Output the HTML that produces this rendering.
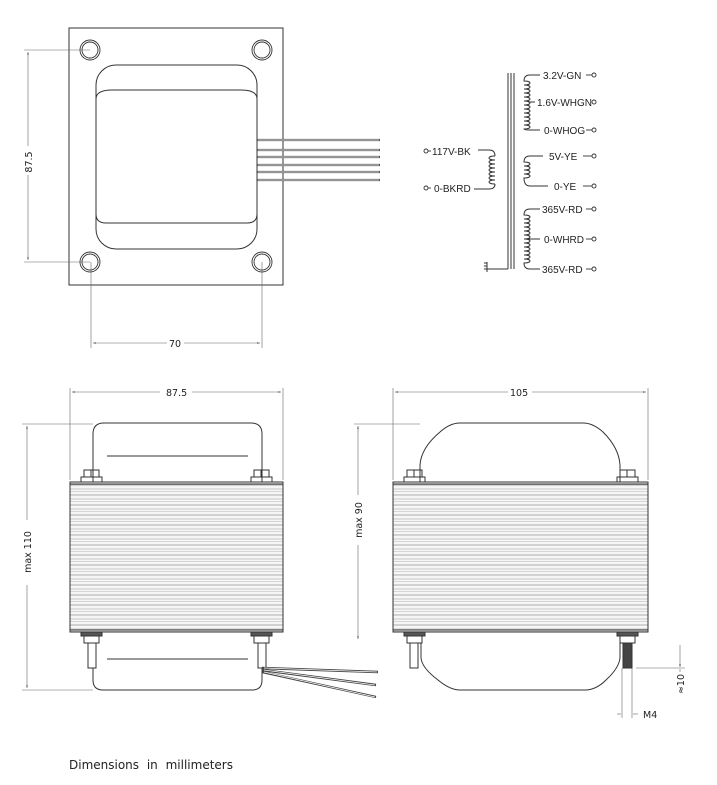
<!DOCTYPE html>
<html><head><meta charset="utf-8"><style>
html,body{margin:0;padding:0;background:#fff;}
svg{display:block;font-family:"DejaVu Sans","Liberation Sans",sans-serif;}
</style></head><body>
<svg width="717" height="785" viewBox="0 0 717 785" xmlns="http://www.w3.org/2000/svg">
<defs>
<pattern id="st" x="0" y="484" width="10" height="10" patternUnits="userSpaceOnUse">
<rect width="10" height="10" fill="#f6f6f6"/>
<line x1="0" y1="1" x2="10" y2="1" stroke="#999" stroke-width="0.8"/>
<line x1="0" y1="5" x2="10" y2="5" stroke="#bbb" stroke-width="0.8"/>
<line x1="0" y1="7.5" x2="10" y2="7.5" stroke="#ccc" stroke-width="0.8"/>
</pattern>
<marker id="ar" viewBox="0 0 10 10" refX="10" refY="5" markerWidth="5" markerHeight="5" orient="auto-start-reverse"><path d="M0,3 L10,5 L0,7 z" fill="#333"/></marker>
</defs>
<g fill="none" stroke="#333" stroke-width="1">
<!-- TOP VIEW -->
<rect x="69" y="28" width="214" height="257"/>
<g stroke-width="0.9">
<circle cx="90" cy="50" r="10"/><circle cx="90" cy="50" r="8"/>
<circle cx="262" cy="50" r="10"/><circle cx="262" cy="50" r="8"/>
<circle cx="90" cy="262" r="10"/><circle cx="90" cy="262" r="8"/>
<circle cx="262" cy="262" r="10"/><circle cx="262" cy="262" r="8"/>
</g>
<rect x="96" y="65" width="161" height="184" rx="20"/>
<path d="M96,99 Q96,90 112,90 L241,90 Q257,90 257,99"/>
<path d="M96,99 L96,214 Q96,223 106,223 L247,223 Q257,223 257,214 L257,99"/>
<g stroke="#555" stroke-width="2.2">
<line x1="257" y1="140" x2="380" y2="140"/><line x1="257" y1="150" x2="380" y2="150"/>
<line x1="257" y1="157" x2="380" y2="157"/><line x1="257" y1="165" x2="380" y2="165"/>
<line x1="257" y1="172" x2="380" y2="172"/><line x1="257" y1="180" x2="380" y2="180"/>
</g>
<g stroke="#fff" stroke-width="0.7">
<line x1="258" y1="140" x2="379" y2="140"/><line x1="258" y1="150" x2="379" y2="150"/>
<line x1="258" y1="157" x2="379" y2="157"/><line x1="258" y1="165" x2="379" y2="165"/>
<line x1="258" y1="172" x2="379" y2="172"/><line x1="258" y1="180" x2="379" y2="180"/>
</g>
<g stroke="#666" stroke-width="0.6">
<line x1="24" y1="50" x2="90" y2="50"/><line x1="24" y1="262" x2="90" y2="262"/>
<line x1="28" y1="52" x2="28" y2="146" marker-start="url(#ar)"/><line x1="28" y1="175" x2="28" y2="260" marker-end="url(#ar)"/>
<line x1="91" y1="262" x2="91" y2="348"/><line x1="262" y1="262" x2="262" y2="348"/>
<line x1="93" y1="343" x2="167" y2="343" marker-start="url(#ar)"/><line x1="184" y1="343" x2="260" y2="343" marker-end="url(#ar)"/>
</g>
<!-- SCHEMATIC -->
<g stroke-width="1">
<line x1="508" y1="73" x2="508" y2="269"/><line x1="511" y1="73" x2="511" y2="269"/><line x1="514" y1="73" x2="514" y2="269"/>
<line x1="487" y1="269" x2="508" y2="269"/>
<line x1="484" y1="263" x2="487" y2="263"/><line x1="484" y1="266" x2="487" y2="266"/><line x1="484" y1="269" x2="487" y2="269"/><line x1="487" y1="262" x2="487" y2="272"/>
<path d="M478,150 L489,150 Q495,150 495,156 M495,184 Q495,189 489,189 L474,189"/>
<path d="M495,156 c-8,0 -8,4 0,4 c-8,0 -8,4 0,4 c-8,0 -8,4 0,4 c-8,0 -8,4 0,4 c-8,0 -8,4 0,4 c-8,0 -8,4 0,4 c-8,0 -8,4 0,4"/>
<path d="M540,75 L530,75 Q524,75 524,81 c8,0 8,4 0,4 c8,0 8,4 0,4 c8,0 8,4 0,4 c8,0 8,4 0,4 c8,0 8,4 0,4 c8,0 8,4 0,4 c8,0 8,4 0,4 c8,0 8,4 0,4 c8,0 8,4 0,4 c8,0 8,4 0,4 c8,0 8,4 0,4 c8,0 8,4 0,4 Q524,130 530,130 L540,130"/>
<line x1="528" y1="102" x2="535" y2="102"/>
<path d="M543,156 L530,156 Q524,156 524,162 c8,0 8,4 0,4 c8,0 8,4 0,4 c8,0 8,4 0,4 c8,0 8,4 0,4 Q524,186 530,186 L548,186"/>
<path d="M540,209 L530,209 Q524,209 524,215 c8,0 8,4 0,4 c8,0 8,4 0,4 c8,0 8,4 0,4 c8,0 8,4 0,4 c8,0 8,4 0,4 c8,0 8,4 0,4 c8,0 8,4 0,4 c8,0 8,4 0,4 c8,0 8,4 0,4 c8,0 8,4 0,4 c8,0 8,4 0,4 c8,0 8,4 0,4 Q524,269 530,269 L540,269"/>
<line x1="528" y1="239" x2="540" y2="239"/>
<g stroke-width="0.9">
<line x1="586" y1="75" x2="592" y2="75"/><circle cx="594" cy="75" r="2"/>
<circle cx="594" cy="102" r="2"/>
<line x1="586" y1="130" x2="592" y2="130"/><circle cx="594" cy="130" r="2"/>
<line x1="583" y1="156" x2="592" y2="156"/><circle cx="594" cy="156" r="2"/>
<line x1="583" y1="186" x2="592" y2="186"/><circle cx="594" cy="186" r="2"/>
<line x1="586" y1="209" x2="592" y2="209"/><circle cx="594" cy="209" r="2"/>
<line x1="586" y1="239" x2="592" y2="239"/><circle cx="594" cy="239" r="2"/>
<line x1="586" y1="269" x2="592" y2="269"/><circle cx="594" cy="269" r="2"/>
<circle cx="426" cy="151" r="2"/><line x1="428" y1="151" x2="431" y2="151"/>
<circle cx="426" cy="188" r="2"/><line x1="428" y1="188" x2="431" y2="188"/>
</g>
</g>
<!-- FRONT VIEW -->
<path d="M93,482 L93,434 Q93,423 104,423 L251,423 Q262,423 262,434 L262,482" />
<line x1="107" y1="456" x2="248" y2="456"/>
<rect x="70" y="482" width="213" height="150" fill="url(#st)"/>
<line x1="70" y1="484" x2="283" y2="484"/><line x1="70" y1="630" x2="283" y2="630"/>
<rect x="81" y="477" width="21" height="5"/><rect x="84" y="470" width="15" height="7"/><line x1="91" y1="470" x2="91" y2="477"/>
<rect x="251" y="477" width="21" height="5"/><rect x="254" y="470" width="15" height="7"/><line x1="261" y1="470" x2="261" y2="477"/>
<rect x="81" y="632" width="21" height="4" fill="#555"/><rect x="84" y="636" width="15" height="7"/>
<rect x="251" y="632" width="21" height="4" fill="#555"/><rect x="254" y="636" width="15" height="7"/>
<rect x="88" y="643" width="8" height="25"/><rect x="258" y="643" width="8" height="25"/>
<path d="M93,668 L93,680 Q93,690 103,690 L252,690 Q262,690 262,680 L262,668"/>
<line x1="107" y1="659" x2="248" y2="659"/>
<g stroke="#444" stroke-width="2.4"><path d="M262,668 L378,672 M262,670 L376,685 M262,672 L376,697"/></g>
<g stroke="#fff" stroke-width="0.8"><path d="M264,668 L377,672 M264,670 L375,685 M264,672 L375,697"/></g>
<g stroke="#666" stroke-width="0.6">
<line x1="70" y1="388" x2="70" y2="480"/><line x1="283" y1="388" x2="283" y2="480"/>
<line x1="72" y1="392" x2="160" y2="392" marker-start="url(#ar)"/><line x1="192" y1="392" x2="281" y2="392" marker-end="url(#ar)"/>
<line x1="22" y1="424" x2="93" y2="424"/><line x1="22" y1="690" x2="93" y2="690"/>
<line x1="27" y1="426" x2="27" y2="520" marker-start="url(#ar)"/><line x1="27" y1="585" x2="27" y2="688" marker-end="url(#ar)"/>
<line x1="354" y1="424" x2="420" y2="424"/>
<line x1="358" y1="426" x2="358" y2="495" marker-start="url(#ar)"/><line x1="358" y1="545" x2="358" y2="639" marker-end="url(#ar)"/>
</g>
<!-- SIDE VIEW -->
<path d="M420,482 L420,465 Q421,448 440,432 Q450,423 460,423 L583,423 Q593,423 603,432 Q619,448 620,465 L620,482"/>
<rect x="393" y="482" width="255" height="150" fill="url(#st)"/>
<line x1="393" y1="484" x2="648" y2="484"/><line x1="393" y1="630" x2="648" y2="630"/>
<rect x="404" y="477" width="21" height="5"/><rect x="407" y="470" width="15" height="7"/><line x1="414" y1="470" x2="414" y2="477"/>
<rect x="617" y="477" width="21" height="5"/><rect x="620" y="470" width="15" height="7"/><line x1="627" y1="470" x2="627" y2="477"/>
<rect x="404" y="632" width="21" height="4" fill="#555"/><rect x="407" y="636" width="15" height="7"/>
<rect x="617" y="632" width="21" height="4" fill="#555"/><rect x="620" y="636" width="15" height="7"/>
<rect x="410" y="643" width="8" height="25"/><rect x="623" y="643" width="9" height="25" fill="#444"/>
<path d="M421,643 L421,658 Q422,668 438,680 Q450,690 460,690 L585,690 Q596,690 606,680 Q619,668 620,658 L620,643"/>
<g stroke="#666" stroke-width="0.6">
<line x1="393" y1="388" x2="393" y2="480"/><line x1="648" y1="388" x2="648" y2="480"/>
<line x1="395" y1="392" x2="508" y2="392" marker-start="url(#ar)"/><line x1="532" y1="392" x2="646" y2="392" marker-end="url(#ar)"/>
<line x1="636" y1="668" x2="685" y2="668"/>
<line x1="680" y1="645" x2="680" y2="667" marker-end="url(#ar)"/><line x1="680" y1="669" x2="680" y2="672"/>
<line x1="622" y1="668" x2="622" y2="718"/><line x1="632" y1="668" x2="632" y2="718"/>
<line x1="617" y1="714" x2="621" y2="714"/><line x1="633" y1="714" x2="638" y2="714"/>
</g>
</g>
<g fill="#222" font-size="9.5">
<text x="169" y="347">70</text>
<text transform="translate(32,162) rotate(-90)" text-anchor="middle">87.5</text>
<text x="166" y="396">87.5</text>
<text x="510" y="396">105</text>
<text transform="translate(31,552) rotate(-90)" text-anchor="middle">max  110</text>
<text transform="translate(362,520) rotate(-90)" text-anchor="middle">max  90</text>
<text transform="translate(684,684) rotate(-90)" text-anchor="middle">≈10</text>
<text x="643" y="718">M4</text>
</g>
<g fill="#222" font-size="10" font-family="'Liberation Sans',sans-serif">
<text x="543" y="79">3.2V-GN</text>
<text x="537" y="106">1.6V-WHGN</text>
<text x="544" y="134">0-WHOG</text>
<text x="549" y="160">5V-YE</text>
<text x="554" y="190">0-YE</text>
<text x="542" y="213">365V-RD</text>
<text x="544" y="243">0-WHRD</text>
<text x="542" y="273">365V-RD</text>
<text x="432" y="155">117V-BK</text>
<text x="434" y="192">0-BKRD</text>
</g>
<text x="69" y="769" font-size="12" fill="#222" word-spacing="4">Dimensions in millimeters</text>
</svg>
</body></html>
